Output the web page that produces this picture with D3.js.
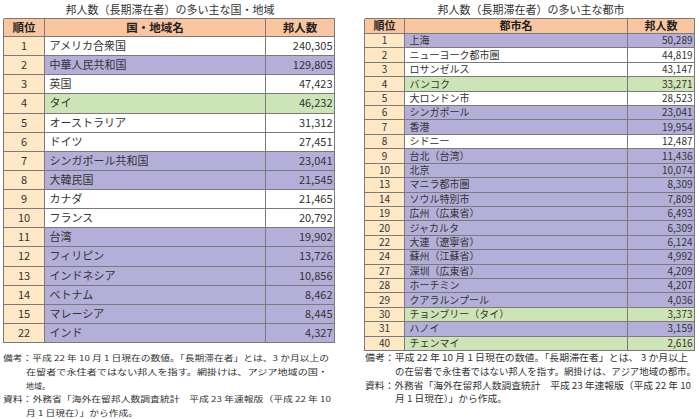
<!DOCTYPE html>
<html><head><meta charset="utf-8">
<script src="https://cdn.jsdelivr.net/npm/d3@7"></script>
<style>
html,body{margin:0;padding:0;background:#fff;}
svg{display:block;font-family:"Noto Sans CJK JP","Noto Sans",sans-serif;}
</style></head><body>
<svg id="c" width="700" height="419"></svg>
<script>
// ---- data ----
const countryTitle = "邦人数（長期滞在者）の多い主な国・地域";
const countryHeaders = ["順位", "国・地域名", "邦人数"];
const countryRanks = [1,2,3,4,5,6,7,8,9,10,11,12,13,14,15,22];
const countryNames = ["アメリカ合衆国","中華人民共和国","英国","タイ","オーストラリア","ドイツ","シンガポール共和国","大韓民国","カナダ","フランス","台湾","フィリピン","インドネシア","ベトナム","マレーシア","インド"];
const countryValues = [240305,129805,47423,46232,31312,27451,23041,21545,21465,20792,19902,13726,10856,8462,8445,4327];
const countryGroup = ["other","asia","other","thai","other","other","asia","asia","other","other","asia","asia","asia","asia","asia","asia"];
const countryNotes = [
  "備考：平成 22 年 10 月 1 日現在の数値。「長期滞在者」とは、3 か月以上の",
  "在留者で永住者ではない邦人を指す。網掛けは、アジア地域の国・",
  "地域。",
  "資料：外務省「海外在留邦人数調査統計　平成 23 年速報版（平成 22 年 10",
  "月 1 日現在）」から作成。"
];

const cityTitle = "邦人数（長期滞在者）の多い主な都市";
const cityHeaders = ["順位", "都市名", "邦人数"];
const cityRanks = [1,2,3,4,5,6,7,8,9,10,13,14,19,20,22,24,27,28,29,30,31,40];
const cityNames = ["上海","ニューヨーク都市圏","ロサンゼルス","バンコク","大ロンドン市","シンガポール","香港","シドニー","台北（台湾）","北京","マニラ都市圏","ソウル特別市","広州（広東省）","ジャカルタ","大連（遼寧省）","蘇州（江蘇省）","深圳（広東省）","ホーチミン","クアラルンプール","チョンブリー（タイ）","ハノイ","チェンマイ"];
const cityValues = [50289,44819,43147,33271,28523,23041,19954,12487,11436,10074,8309,7809,6493,6309,6124,4992,4209,4207,4036,3373,3159,2616];
const cityGroup = ["asia","other","other","thai","other","asia","asia","other","asia","asia","asia","asia","asia","asia","asia","asia","asia","asia","asia","thai","asia","thai"];
const cityNotes = [
  "備考：平成 22 年 10 月 1 日現在の数値。「長期滞在者」とは、 3 か月以上",
  "の在留者で永住者ではない邦人を指す。網掛けは、アジア地域の都市。",
  "資料：外務省「海外在留邦人数調査統計　平成 23 年速報版（平成 22 年 10",
  "月 1 日現在）」から作成。"
];

// ---- drawing ----
const svg = d3.select("#c");
const fill = d3.scaleOrdinal().domain(["other","asia","thai"]).range(["#ffffff","#b3afd9","#cde5b6"]);
const fmt = d3.format(",");
const headerFill = "#fac6a0", rankFill = "#ffe8c6", lineCol = "#7a7a7a", textCol = "#333";

function drawTable(cfg) {
  const g = svg.append("g");
  const n = cfg.ranks.length;
  const y = d3.scaleBand().domain(d3.range(n)).range([cfg.bodyTop, cfg.bodyBottom]);
  const [x0, x1, x2, x3] = cfg.cols;

  // title
  g.append("text").attr("x", cfg.titleX).attr("y", cfg.titleY).attr("text-anchor", "middle")
    .attr("font-size", 11).attr("fill", textCol).text(cfg.title);

  // header
  g.append("rect").attr("x", x0).attr("y", cfg.headTop).attr("width", x3 - x0).attr("height", cfg.bodyTop - cfg.headTop).attr("fill", headerFill);
  const hc = [(x0 + x1) / 2, (x1 + x2) / 2, (x2 + x3) / 2];
  g.selectAll(".h").data(cfg.headers).join("text")
    .attr("x", (d, i) => hc[i]).attr("y", (cfg.headTop + cfg.bodyTop) / 2)
    .attr("dy", "0.36em").attr("text-anchor", "middle").attr("font-weight", "bold")
    .attr("font-size", cfg.hfs).attr("fill", "#222").text(d => d);

  const rows = g.selectAll(".r").data(d3.range(n)).join("g");
  rows.append("rect").attr("x", x0).attr("y", i => y(i)).attr("width", x1 - x0).attr("height", y.bandwidth()).attr("fill", rankFill);
  rows.append("rect").attr("x", x1).attr("y", i => y(i)).attr("width", x3 - x1).attr("height", y.bandwidth()).attr("fill", i => fill(cfg.group[i]));
  rows.append("text").attr("x", (x0 + x1) / 2).attr("y", i => y(i) + y.bandwidth() / 2).attr("dy", "0.36em")
    .attr("text-anchor", "middle").attr("font-size", cfg.fs).attr("fill", textCol).text(i => cfg.ranks[i]);
  rows.append("text").attr("x", x1 + cfg.padL).attr("y", i => y(i) + y.bandwidth() / 2).attr("dy", "0.36em")
    .attr("font-size", cfg.fs).attr("fill", textCol).text(i => cfg.names[i]);
  rows.append("text").attr("x", x3 - 2).attr("y", i => y(i) + y.bandwidth() / 2).attr("dy", "0.36em")
    .attr("text-anchor", "end").attr("font-size", cfg.fs).attr("fill", textCol).text(i => fmt(cfg.values[i]));

  // horizontal lines
  const hy = [cfg.headTop, cfg.bodyTop].concat(d3.range(1, n + 1).map(i => y(i - 1) + y.bandwidth()));
  g.selectAll(".hl").data(hy).join("line")
    .attr("x1", x0).attr("x2", x3).attr("y1", d => d).attr("y2", d => d)
    .attr("stroke", lineCol).attr("stroke-width", 1).attr("shape-rendering", "crispEdges");
  g.selectAll(".vl").data(cfg.cols).join("line")
    .attr("x1", d => d).attr("x2", d => d).attr("y1", cfg.headTop).attr("y2", cfg.bodyBottom)
    .attr("stroke", lineCol).attr("stroke-width", 1).attr("shape-rendering", "crispEdges");

  // notes: pick a font size whose natural width fits every line, then fit exactly
  const notes = g.selectAll(".n").data(cfg.notes).join("text")
    .attr("x", (d, i) => cfg.noteX[i]).attr("y", (d, i) => cfg.noteY[i])
    .attr("font-size", 10).attr("fill", textCol).text(d => d);
  let ratio = 1.1;
  notes.each(function(d, i) {
    const w = this.getComputedTextLength();
    ratio = Math.min(ratio, cfg.noteW[i] / w);
  });
  const nfs = Math.min(10.5, 10 * ratio);
  notes.attr("font-size", nfs)
    .attr("textLength", (d, i) => cfg.noteW[i]).attr("lengthAdjust", "spacingAndGlyphs");
}

drawTable({
  title: countryTitle, titleX: 170, titleY: 14,
  headers: countryHeaders, ranks: countryRanks, names: countryNames, values: countryValues, group: countryGroup,
  cols: [3.5, 44.5, 265.5, 334.5], headTop: 18.5, bodyTop: 36.5, bodyBottom: 342.5, fs: 11, hfs: 11.5, padL: 5,
  notes: countryNotes,
  noteX: [3, 26, 26, 3, 26],
  noteY: [361, 375, 389, 402, 416],
  noteW: [326, 302, 24, 328, 112]
});

drawTable({
  title: cityTitle, titleX: 531, titleY: 14,
  headers: cityHeaders, ranks: cityRanks, names: cityNames, values: cityValues, group: cityGroup,
  cols: [364.5, 404.5, 627.5, 694.5], headTop: 18.5, bodyTop: 33.5, bodyBottom: 350.5, fs: 10, hfs: 11, padL: 5,
  notes: cityNotes,
  noteX: [365, 395, 365, 395],
  noteY: [361, 375, 389, 402],
  noteW: [323, 301, 326, 112]
});
</script>
</body></html>
